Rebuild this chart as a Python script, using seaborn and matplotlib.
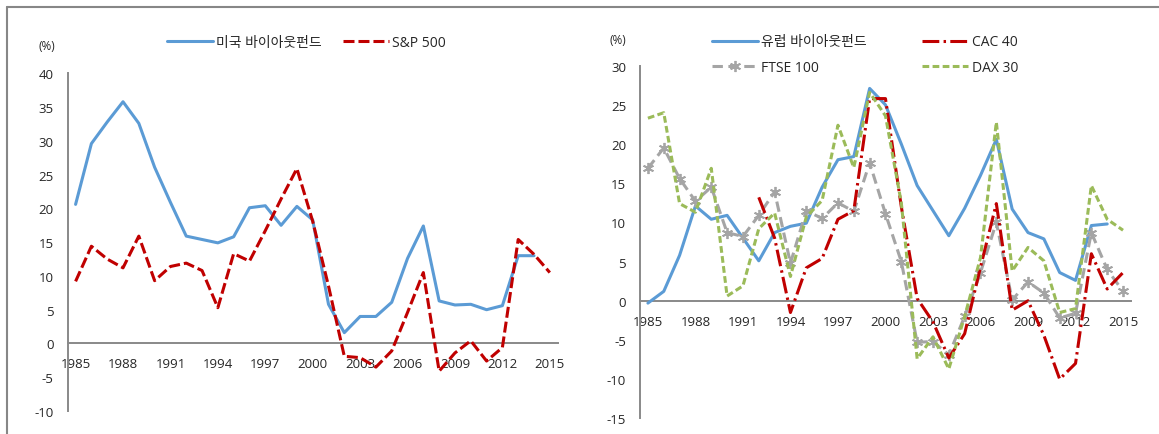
import numpy as np
import matplotlib
matplotlib.use("Agg")
import matplotlib.pyplot as plt
from matplotlib.lines import Line2D
import seaborn as sns

nan = np.nan
years = list(range(1985, 2016))

# Left panel: US buyout funds vs S&P 500 (annual return, %)
us_buyout = [20.6, 29.6, 32.8, 35.8, 32.6, 26.1, 20.9, 15.9, 15.4, 14.9, 15.8,
             20.1, 20.4, 17.5, 20.3, 18.3, 5.8, 1.6, 4.0, 4.0, 6.1,
             12.6, 17.4, 6.3, 5.7, 5.8, 5.0, 5.6, 13.0, 13.0, nan]
sp500 = [9.2, 14.4, 12.5, 11.2, 15.9, 9.3, 11.4, 11.9, 10.8, 5.3, 13.3,
         12.2, 16.7, 21.4, 25.9, 18.1, 8.5, -1.9, -2.1, -3.5, -1.1,
         4.6, 10.5, -4.1, -1.4, 0.4, -2.6, -0.6, 15.4, 13.2, 10.5]

# Right panel: European buyout funds vs European indices (annual return, %)
eu_buyout = [-0.3, 1.2, 5.8, 12.1, 10.4, 10.9, 8.0, 5.1, 8.7, 9.5, 9.9,
             14.5, 18.0, 18.4, 27.1, 25.0, 20.0, 14.7, 11.5, 8.3, 11.8,
             16.0, 20.6, 11.7, 8.7, 7.9, 3.6, 2.6, 9.6, 9.8, nan]
cac40 = [nan, nan, nan, nan, nan, nan, nan, 13.2, 8.0, -1.5, 4.2,
         5.4, 10.4, 11.5, 25.8, 25.8, 12.0, 0.3, -2.7, -7.3, -4.2,
         4.3, 12.4, -1.2, 0.0, -4.4, -10.0, -8.0, 6.0, 1.5, 3.6]
ftse100 = [16.9, 19.5, 15.6, 12.7, 14.5, 8.7, 8.2, 10.9, 13.9, 4.8, 11.5,
           10.5, 12.5, 11.4, 17.6, 11.1, 5.0, -5.3, -5.2, -6.9, -2.0,
           3.6, 10.0, 0.1, 2.4, 1.0, -2.2, -1.6, 8.7, 4.0, 1.2]
dax30 = [23.3, 24.0, 12.4, 11.3, 16.9, 0.6, 1.9, 9.2, 11.2, 3.1, 10.7,
         12.8, 22.4, 17.0, 26.6, 23.6, 12.5, -7.4, -4.6, -8.7, -2.0,
         5.5, 22.8, 3.8, 6.8, 5.1, -1.5, -1.0, 14.7, 10.4, 9.0]

us_labels = ["미국 바이아웃펀드", "S&P 500"]
eu_labels = ["유럽 바이아웃펀드", "FTSE 100", "CAC 40", "DAX 30"]
year_ticks = list(range(1985, 2016, 3))
left_yticks = list(range(-10, 41, 5))
right_yticks = list(range(-15, 31, 5))
unit_label = "(%)"

sns.set_theme(style="white")
plt.rcParams["font.family"] = ["Open Sans", "Noto Sans CJK KR", "DejaVu Sans"]
plt.rcParams["axes.unicode_minus"] = False

TEXT = "#262626"
AXIS = "#898989"
BLUE = "#5B9BD5"
RED = "#C00000"
GREY = "#A5A5A5"
GREEN = "#9BBB59"

fig = plt.figure(figsize=(11.59, 4.35), dpi=100)
ax1 = fig.add_axes([0.0584, 0.0529, 0.4228, 0.7761])
ax2 = fig.add_axes([0.5522, 0.0361, 0.4236, 0.8106])


def style_axis(ax, yticks):
    ax.set_xlim(1984.5, 2015.5)
    ax.set_ylim(yticks[0], yticks[-1])
    ax.set_yticks(yticks)
    ax.set_yticklabels([str(v) for v in yticks])
    ax.set_xticks(year_ticks)
    ax.set_xticklabels([str(y) for y in year_ticks])
    ax.set_xticks(np.arange(1984.5, 2016, 1.0), minor=True)
    ax.spines["top"].set_visible(False)
    ax.spines["right"].set_visible(False)
    ax.spines["bottom"].set_position(("data", 0))
    for s in ("left", "bottom"):
        ax.spines[s].set_color(AXIS)
        ax.spines[s].set_linewidth(1.4)
    ax.tick_params(axis="x", which="major", length=0, pad=10,
                   labelsize=9.5, labelcolor=TEXT)
    ax.tick_params(axis="x", which="minor", length=4, width=1.4,
                   color=AXIS, direction="out")
    ax.tick_params(axis="y", which="major", length=4, width=1.4, color=AXIS,
                   direction="out", pad=6, labelsize=9.5, labelcolor=TEXT)
    ax.set_xlabel("")
    ax.set_ylabel("")
    ax.grid(False)
    ax.patch.set_alpha(0)


# Left panel lines
sns.lineplot(x=years, y=us_buyout, ax=ax1, color=BLUE, linewidth=2.2,
             label=us_labels[0], legend=False, zorder=3)
sns.lineplot(x=years, y=sp500, ax=ax1, color=RED, linewidth=2.2,
             linestyle=(0, (3.6, 1.3)), label=us_labels[1], legend=False, zorder=3)
style_axis(ax1, left_yticks)

# Right panel lines
sns.lineplot(x=years, y=eu_buyout, ax=ax2, color=BLUE, linewidth=2.2,
             label=eu_labels[0], legend=False, zorder=3)
sns.lineplot(x=years, y=ftse100, ax=ax2, color=GREY, linewidth=2.2,
             linestyle=(0, (3.4, 1.8)), marker=(6, 2, 0), markersize=8,
             markeredgewidth=1.3, markeredgecolor=GREY, markerfacecolor=GREY,
             label=eu_labels[1], legend=False, zorder=3)
sns.lineplot(x=years, y=cac40, ax=ax2, color=RED, linewidth=2.2,
             linestyle=(0, (5.5, 1.4, 0.8, 1.4)), label=eu_labels[2],
             legend=False, zorder=3)
sns.lineplot(x=years, y=dax30, ax=ax2, color=GREEN, linewidth=2.2,
             linestyle=(0, (2.2, 1.1)), label=eu_labels[3], legend=False, zorder=3)
style_axis(ax2, right_yticks)


def ordered_handles(ax, labels):
    handles, labs = ax.get_legend_handles_labels()
    lookup = dict(zip(labs, handles))
    return [lookup[l] for l in labels]


leg1 = ax1.legend(ordered_handles(ax1, us_labels), us_labels,
                  loc="center left", bbox_to_anchor=(0.1441, 0.9010),
                  bbox_transform=fig.transFigure, ncol=2, frameon=False,
                  fontsize=10, handlelength=3.3, handletextpad=0.2,
                  columnspacing=1.6, borderpad=0, borderaxespad=0)
leg2 = ax2.legend(ordered_handles(ax2, eu_labels), eu_labels,
                  loc="center left", bbox_to_anchor=(0.6143, 0.8720),
                  bbox_transform=fig.transFigure, ncol=2, frameon=False,
                  fontsize=10, handlelength=3.3, handletextpad=0.25,
                  columnspacing=4.0, labelspacing=0.75, borderpad=0,
                  borderaxespad=0, numpoints=1)
for leg in (leg1, leg2):
    for t in leg.get_texts():
        t.set_color(TEXT)

fig.text(0.0406, 0.892, unit_label, ha="center", va="center",
         fontsize=8.5, color=TEXT)
fig.text(0.5328, 0.906, unit_label, ha="center", va="center",
         fontsize=8.5, color=TEXT)

# Outer frame (top and left edges)
frame_y = 1 - 8 / 435
fig.add_artist(Line2D([0.006, 1.0], [frame_y, frame_y],
                      transform=fig.transFigure, color="#878787", lw=1.5))
fig.add_artist(Line2D([0.006, 0.006], [0.0, frame_y],
                      transform=fig.transFigure, color="#878787", lw=1.5))

fig.savefig("out.png", dpi=100)
